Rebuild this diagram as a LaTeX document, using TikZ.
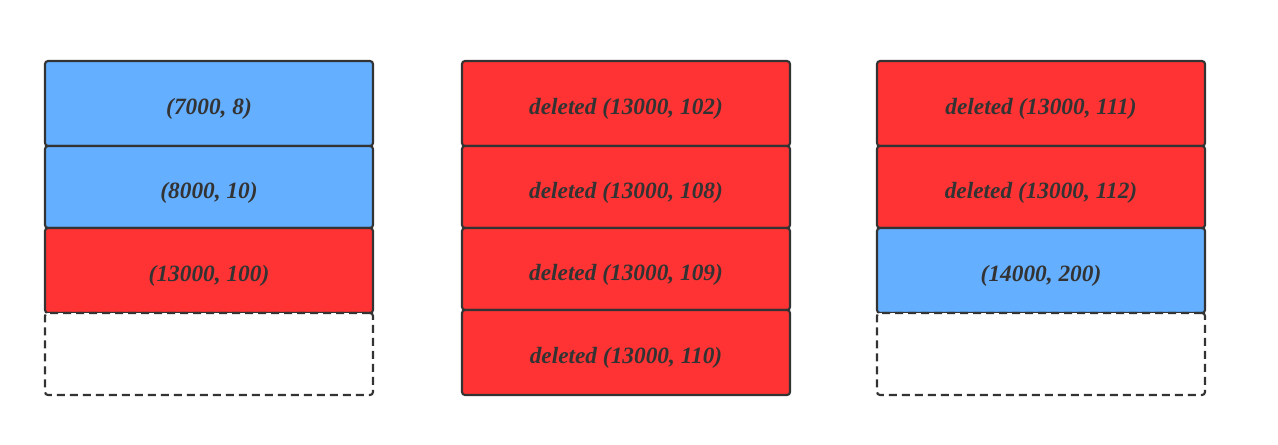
\documentclass[tikz,border=0pt]{standalone}
\usepackage{fontspec}
\setmainfont{Liberation Serif}

\definecolor{boxline}{HTML}{333333}
\definecolor{keepblue}{HTML}{64AFFF}
\definecolor{delred}{HTML}{FF3333}

\tikzset{every picture/.style={line width=0.75pt}}
\tikzset{
	cell/.style={draw=boxline, line width=1.6pt, rounded corners=2.25pt, minimum width=246pt, inner sep=0pt,
		text height=16.8pt, text depth=0pt,
		text=boxline, font=\fontsize{17.5}{20}\selectfont\bfseries\itshape},
	cellblue/.style={cell, fill=keepblue},
	cellred/.style={cell, fill=delred},
	cellfree/.style={cell, fill=white, dash pattern=on 6pt off 3.75pt}
}

\begin{document}
\begin{tikzpicture}[x=0.75pt,y=0.75pt,yscale=-1,xscale=1]
		\useasboundingbox (0,0) rectangle (1278,444);
		
		%first page
		\draw (209,103.5) node [cellblue, minimum height=63.75pt] (pa1) {(7000, 8)};
		\draw (209,187) node [cellblue, minimum height=61.5pt] (pa2) {(8000, 10)};
		\draw (209,270.5) node [cellred, minimum height=63.75pt] (pa3) {(13000, 100)};
		\draw (209,354) node [cellfree, minimum height=61.5pt] (pa4) {};
		
		%second page
		\draw (626,103.5) node [cellred, minimum height=63.75pt] (pb1) {deleted (13000, 102)};
		\draw (626,187) node [cellred, minimum height=61.5pt] (pb2) {deleted (13000, 108)};
		\draw (626,269) node [cellred, minimum height=61.5pt] (pb3) {deleted (13000, 109)};
		\draw (626,352.5) node [cellred, minimum height=63.75pt] (pb4) {deleted (13000, 110)};
		
		%third page
		\draw (1041,103.5) node [cellred, minimum height=63.75pt] (pc1) {deleted (13000, 111)};
		\draw (1041,187) node [cellred, minimum height=61.5pt] (pc2) {deleted (13000, 112)};
		\draw (1041,270.5) node [cellblue, minimum height=63.75pt] (pc3) {(14000, 200)};
		\draw (1041,354) node [cellfree, minimum height=61.5pt] (pc4) {};
		
	\end{tikzpicture}
\end{document}
